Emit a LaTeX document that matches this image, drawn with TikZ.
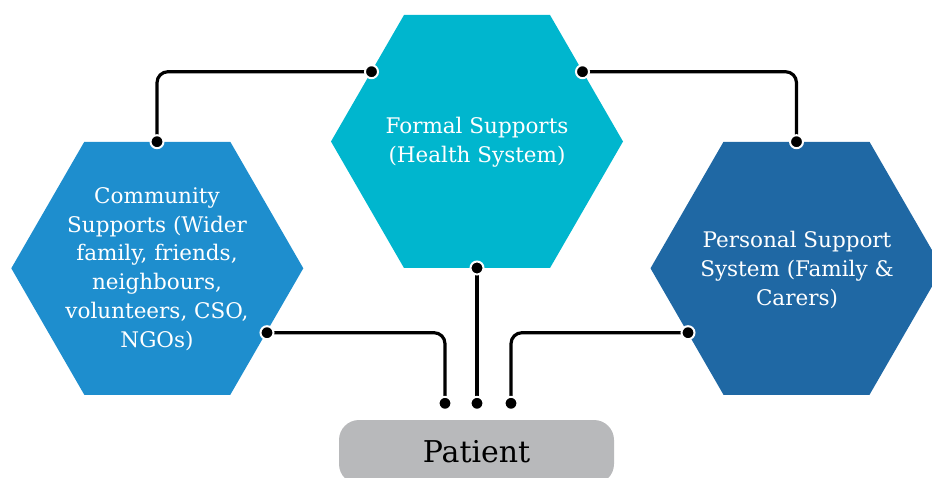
\documentclass[tikz,border=0pt]{standalone}
\usepackage{fontspec}
\setmainfont{DejaVu Serif}
\usetikzlibrary{calc}
\pgfdeclarelayer{fg}
\pgfsetlayers{main,fg}
\definecolor{cLeft}{RGB}{30,142,206}
\definecolor{cMid}{RGB}{0,182,206}
\definecolor{cRight}{RGB}{31,104,164}
\definecolor{cPat}{RGB}{184,185,187}
\tikzset{
  hexpath/.style={fill=#1},
  hextext/.style={text=white, align=center, font=\fontsize{21.5}{28.8}\selectfont, inner sep=0pt},
  dotnode/.style={circle, fill=black, draw=white, line width=2pt, minimum size=13pt, inner sep=0pt},
  conn/.style={line width=3.2pt, rounded corners=11pt},
  patientbox/.style={fill=cPat, rounded corners=20pt, minimum width=275pt, minimum height=64pt, inner sep=0pt, font=\fontsize{30}{34}\selectfont}
}
\begin{document}
\begin{tikzpicture}[x=1pt,y=-1pt]
\useasboundingbox (0,0) rectangle (932,478);
\clip (0,0) rectangle (932,478);
% hexagons
\fill[hexpath=cLeft, shift={(157.3,268.3)}] (-146,0) -- (-73,-126.5) -- (73,-126.5) -- (146,0) -- (73,126.5) -- (-73,126.5) -- cycle;
\fill[hexpath=cMid, shift={(477,141.5)}] (-146,0) -- (-73,-126.5) -- (73,-126.5) -- (146,0) -- (73,126.5) -- (-73,126.5) -- cycle;
\fill[hexpath=cRight, shift={(796.5,268.3)}] (-146,0) -- (-73,-126.5) -- (73,-126.5) -- (146,0) -- (73,126.5) -- (-73,126.5) -- cycle;
% texts
\node[hextext] (tL) at (157,269) {Community\\Supports (Wider\\family, friends,\\neighbours,\\volunteers, CSO,\\NGOs)};
\node[hextext] (tM) at (477,142) {Formal Supports\\(Health System)};
\node[hextext] (tR) at (797,270) {Personal Support\\System (Family \&\\Carers)};
% patient
\node[patientbox] (pat) at (476.5,452) {Patient};
% dots
\begin{pgfonlayer}{fg}
\node[dotnode] (dMl) at (371.5,71.7) {};
\node[dotnode] (dMr) at (582.5,71.7) {};
\node[dotnode] (dL) at (157,141.7) {};
\node[dotnode] (dR) at (796.5,141.7) {};
\node[dotnode] (dMb) at (477,268) {};
\node[dotnode] (dLr) at (267,332.7) {};
\node[dotnode] (dRl) at (688,332.7) {};
\node[dotnode] (pL) at (445,403.3) {};
\node[dotnode] (pM) at (477,403.3) {};
\node[dotnode] (pR) at (511,403.3) {};
\end{pgfonlayer}
% connectors
\draw[conn] (dL.center) |- (dMl.center);
\draw[conn] (dMr.center) -| (dR.center);
\draw[conn] (dMb.center) -- (pM.center);
\draw[conn] (dLr.center) -| (pL.center);
\draw[conn] (dRl.center) -| (pR.center);
\end{tikzpicture}
\end{document}
